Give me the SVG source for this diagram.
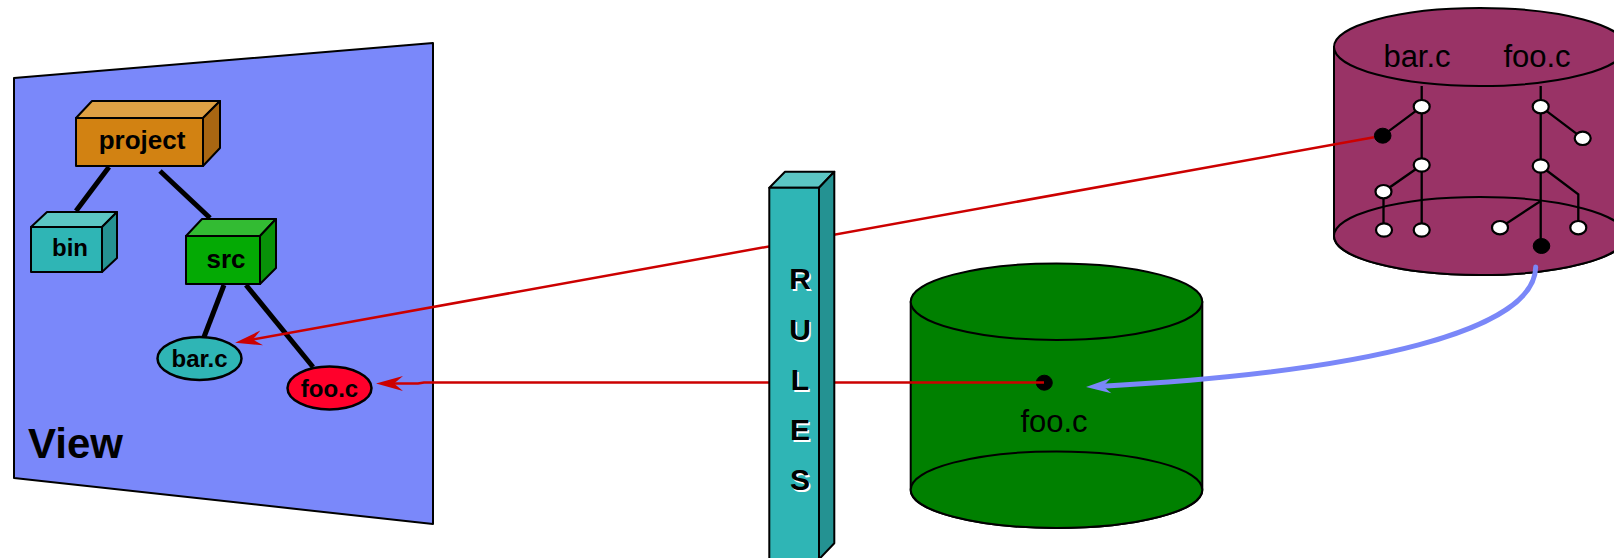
<svg xmlns="http://www.w3.org/2000/svg" width="1614" height="558" viewBox="0 0 1614 558">
<style>
.ol{stroke:#000;stroke-width:2;stroke-linejoin:round}
.lbl{font-family:"Liberation Sans",Arial,sans-serif;font-weight:bold;text-anchor:middle;fill:#000}
.reg{font-family:"Liberation Sans",Arial,sans-serif;text-anchor:middle;fill:#000;font-size:31px}
.tree{stroke:#000;stroke-width:5;stroke-linecap:butt}
.thin{stroke:#000;stroke-width:2.3;fill:none}
.wn{fill:#fff;stroke:#000;stroke-width:2.2}
.bn{fill:#000;stroke:#000;stroke-width:1}
.red{stroke:#cc0000;stroke-width:2.5;fill:none}
.blue{stroke:#7a87f8;stroke-width:5;fill:none;stroke-linecap:round}
.rules{font-family:"Liberation Sans",Arial,sans-serif;font-weight:bold;font-size:30px;text-anchor:middle}
</style>
<defs>
<marker id="ar" markerUnits="userSpaceOnUse" viewBox="-30 -10 32 20" markerWidth="32" markerHeight="20" refX="-8" refY="0" orient="auto" overflow="visible">
<path d="M0,0 L-27,-7.5 L-18,0 L-27,7.5 Z" fill="#cc0000"/>
</marker>
<marker id="ab" markerUnits="userSpaceOnUse" viewBox="-30 -10 32 20" markerWidth="32" markerHeight="20" refX="-12" refY="0" orient="auto" overflow="visible">
<path d="M0,0 L-25,-7.5 L-17,0 L-25,7.5 Z" fill="#7a87f8"/>
</marker>
</defs>
<rect width="1614" height="558" fill="#fff"/>

<g id="view">
<polygon points="14,78 433,43 433,524 14,478" fill="#7a88fa" class="ol"/>
<text x="28" y="458" class="lbl" style="text-anchor:start;font-size:42px">View</text>
</g>

<g id="tree-edges">
<line x1="109" y1="167" x2="76" y2="211" class="tree"/>
<line x1="160" y1="171" x2="210" y2="218" class="tree"/>
<line x1="224" y1="285" x2="204" y2="337" class="tree"/>
<line x1="246" y1="285" x2="313" y2="367" class="tree"/>
</g>

<g id="project">
<polygon points="76,118 92,101 220,101 203,118" fill="#dea044" class="ol"/>
<polygon points="203,118 220,101 220,148 203,166" fill="#a86612" class="ol"/>
<rect x="76" y="118" width="127" height="48" fill="#d28212" class="ol"/>
<text x="142" y="148.5" class="lbl" style="font-size:26px">project</text>
</g>

<g id="bin">
<polygon points="31,227 47,212 117,212 102,227" fill="#5cc6c4" class="ol"/>
<polygon points="102,227 117,212 117,258 102,272" fill="#259292" class="ol"/>
<rect x="31" y="227" width="71" height="45" fill="#2fb5b5" class="ol"/>
<text x="70" y="255.5" class="lbl" style="font-size:24px">bin</text>
</g>

<g id="src">
<polygon points="186,236 202,219 276,219 260,236" fill="#33bb33" class="ol"/>
<polygon points="260,236 276,219 276,268 260,284" fill="#089208" class="ol"/>
<rect x="186" y="236" width="74" height="48" fill="#04aa04" class="ol"/>
<text x="226" y="267.5" class="lbl" style="font-size:26px">src</text>
</g>

<g id="view-bar">
<ellipse cx="199.5" cy="358.5" rx="42" ry="21.5" fill="#2fb5b5" stroke="#000" stroke-width="2.5"/>
<text x="199.5" y="367" class="lbl" style="font-size:24px">bar.c</text>
</g>

<g id="view-foo">
<ellipse cx="329.5" cy="388" rx="42" ry="21.5" fill="#ff002b" stroke="#000" stroke-width="2.5"/>
<text x="329.5" y="397" class="lbl" style="font-size:24px">foo.c</text>
</g>

<g id="green-db">
<path d="M910.7,301.7 L910.7,489.7 A145.8,38.3 0 0 0 1202.3,489.7 L1202.3,301.7 Z" fill="#008000" class="ol"/>
<ellipse cx="1056.5" cy="489.7" rx="145.8" ry="38.3" fill="#008000" class="ol"/>
<ellipse cx="1056.5" cy="301.7" rx="145.8" ry="38.3" fill="#008000" class="ol"/>
<ellipse cx="1044.3" cy="382.7" rx="8" ry="7.5" class="bn"/>
<text x="1054" y="431.5" class="reg">foo.c</text>
</g>

<g id="purple-db">
<path d="M1334,47 L1334,236 A146,39 0 0 0 1626,236 L1626,47 Z" fill="#993366" class="ol"/>
<ellipse cx="1480" cy="236" rx="146" ry="39" fill="#993366" class="ol"/>
<ellipse cx="1480" cy="47" rx="146" ry="39" fill="#993366" class="ol"/>
<text x="1417" y="66.5" class="reg">bar.c</text>
<text x="1537" y="66.5" class="reg">foo.c</text>
<path d="M1421.7,86 L1421.7,230 M1421.7,106.7 L1382.7,135.7 M1421.7,165 L1383.5,191.7 L1383.5,230" class="thin"/>
<path d="M1540.7,86 L1540.7,246 M1540.7,106.7 L1582.7,138.3 M1540.7,166 L1578.3,194.3 L1578.3,227.7 M1540.7,201 L1500,227.7" class="thin"/>
<ellipse cx="1421.7" cy="106.7" rx="8" ry="6.7" class="wn"/>
<ellipse cx="1421.7" cy="165" rx="8" ry="6.7" class="wn"/>
<ellipse cx="1421.7" cy="230" rx="8" ry="6.7" class="wn"/>
<ellipse cx="1383.5" cy="191.7" rx="8" ry="6.7" class="wn"/>
<ellipse cx="1384" cy="230" rx="8" ry="6.7" class="wn"/>
<ellipse cx="1382.7" cy="135.7" rx="8.3" ry="7.5" class="bn"/>
<ellipse cx="1540.7" cy="106.7" rx="8" ry="6.7" class="wn"/>
<ellipse cx="1540.7" cy="166" rx="8" ry="6.7" class="wn"/>
<ellipse cx="1582.7" cy="138.3" rx="8" ry="6.7" class="wn"/>
<ellipse cx="1578.3" cy="227.7" rx="8" ry="6.7" class="wn"/>
<ellipse cx="1500" cy="227.7" rx="8" ry="6.7" class="wn"/>
<ellipse cx="1541.5" cy="246" rx="8.3" ry="7.5" class="bn"/>
</g>

<g id="connectors">
<path d="M1374,137.3 L243,341.3" class="red" marker-end="url(#ar)"/>
<path d="M1044,382.5 L424,382.5 L418,383.6 L384,383.6" class="red" marker-end="url(#ar)"/>
<path d="M1535.7,267 C1535,330 1370,372 1098,386.4" class="blue" marker-end="url(#ab)"/>
</g>

<g id="rules">
<polygon points="769.3,187.7 785,171.7 834.3,171.7 819,187.7" fill="#5cc6c4" class="ol"/>
<polygon points="819,187.7 834.3,171.7 834.3,543.3 819,559.3" fill="#249292" class="ol"/>
<rect x="769.3" y="187.7" width="49.7" height="375" fill="#2fb5b5" class="ol"/>
<g class="rules" fill="#fff" transform="translate(1.5,1.5)">
<text x="800" y="289">R</text><text x="800" y="340">U</text><text x="800" y="390">L</text><text x="800" y="440">E</text><text x="800" y="490">S</text>
</g>
<g class="rules" fill="#000">
<text x="800" y="289">R</text><text x="800" y="340">U</text><text x="800" y="390">L</text><text x="800" y="440">E</text><text x="800" y="490">S</text>
</g>
</g>
</svg>
